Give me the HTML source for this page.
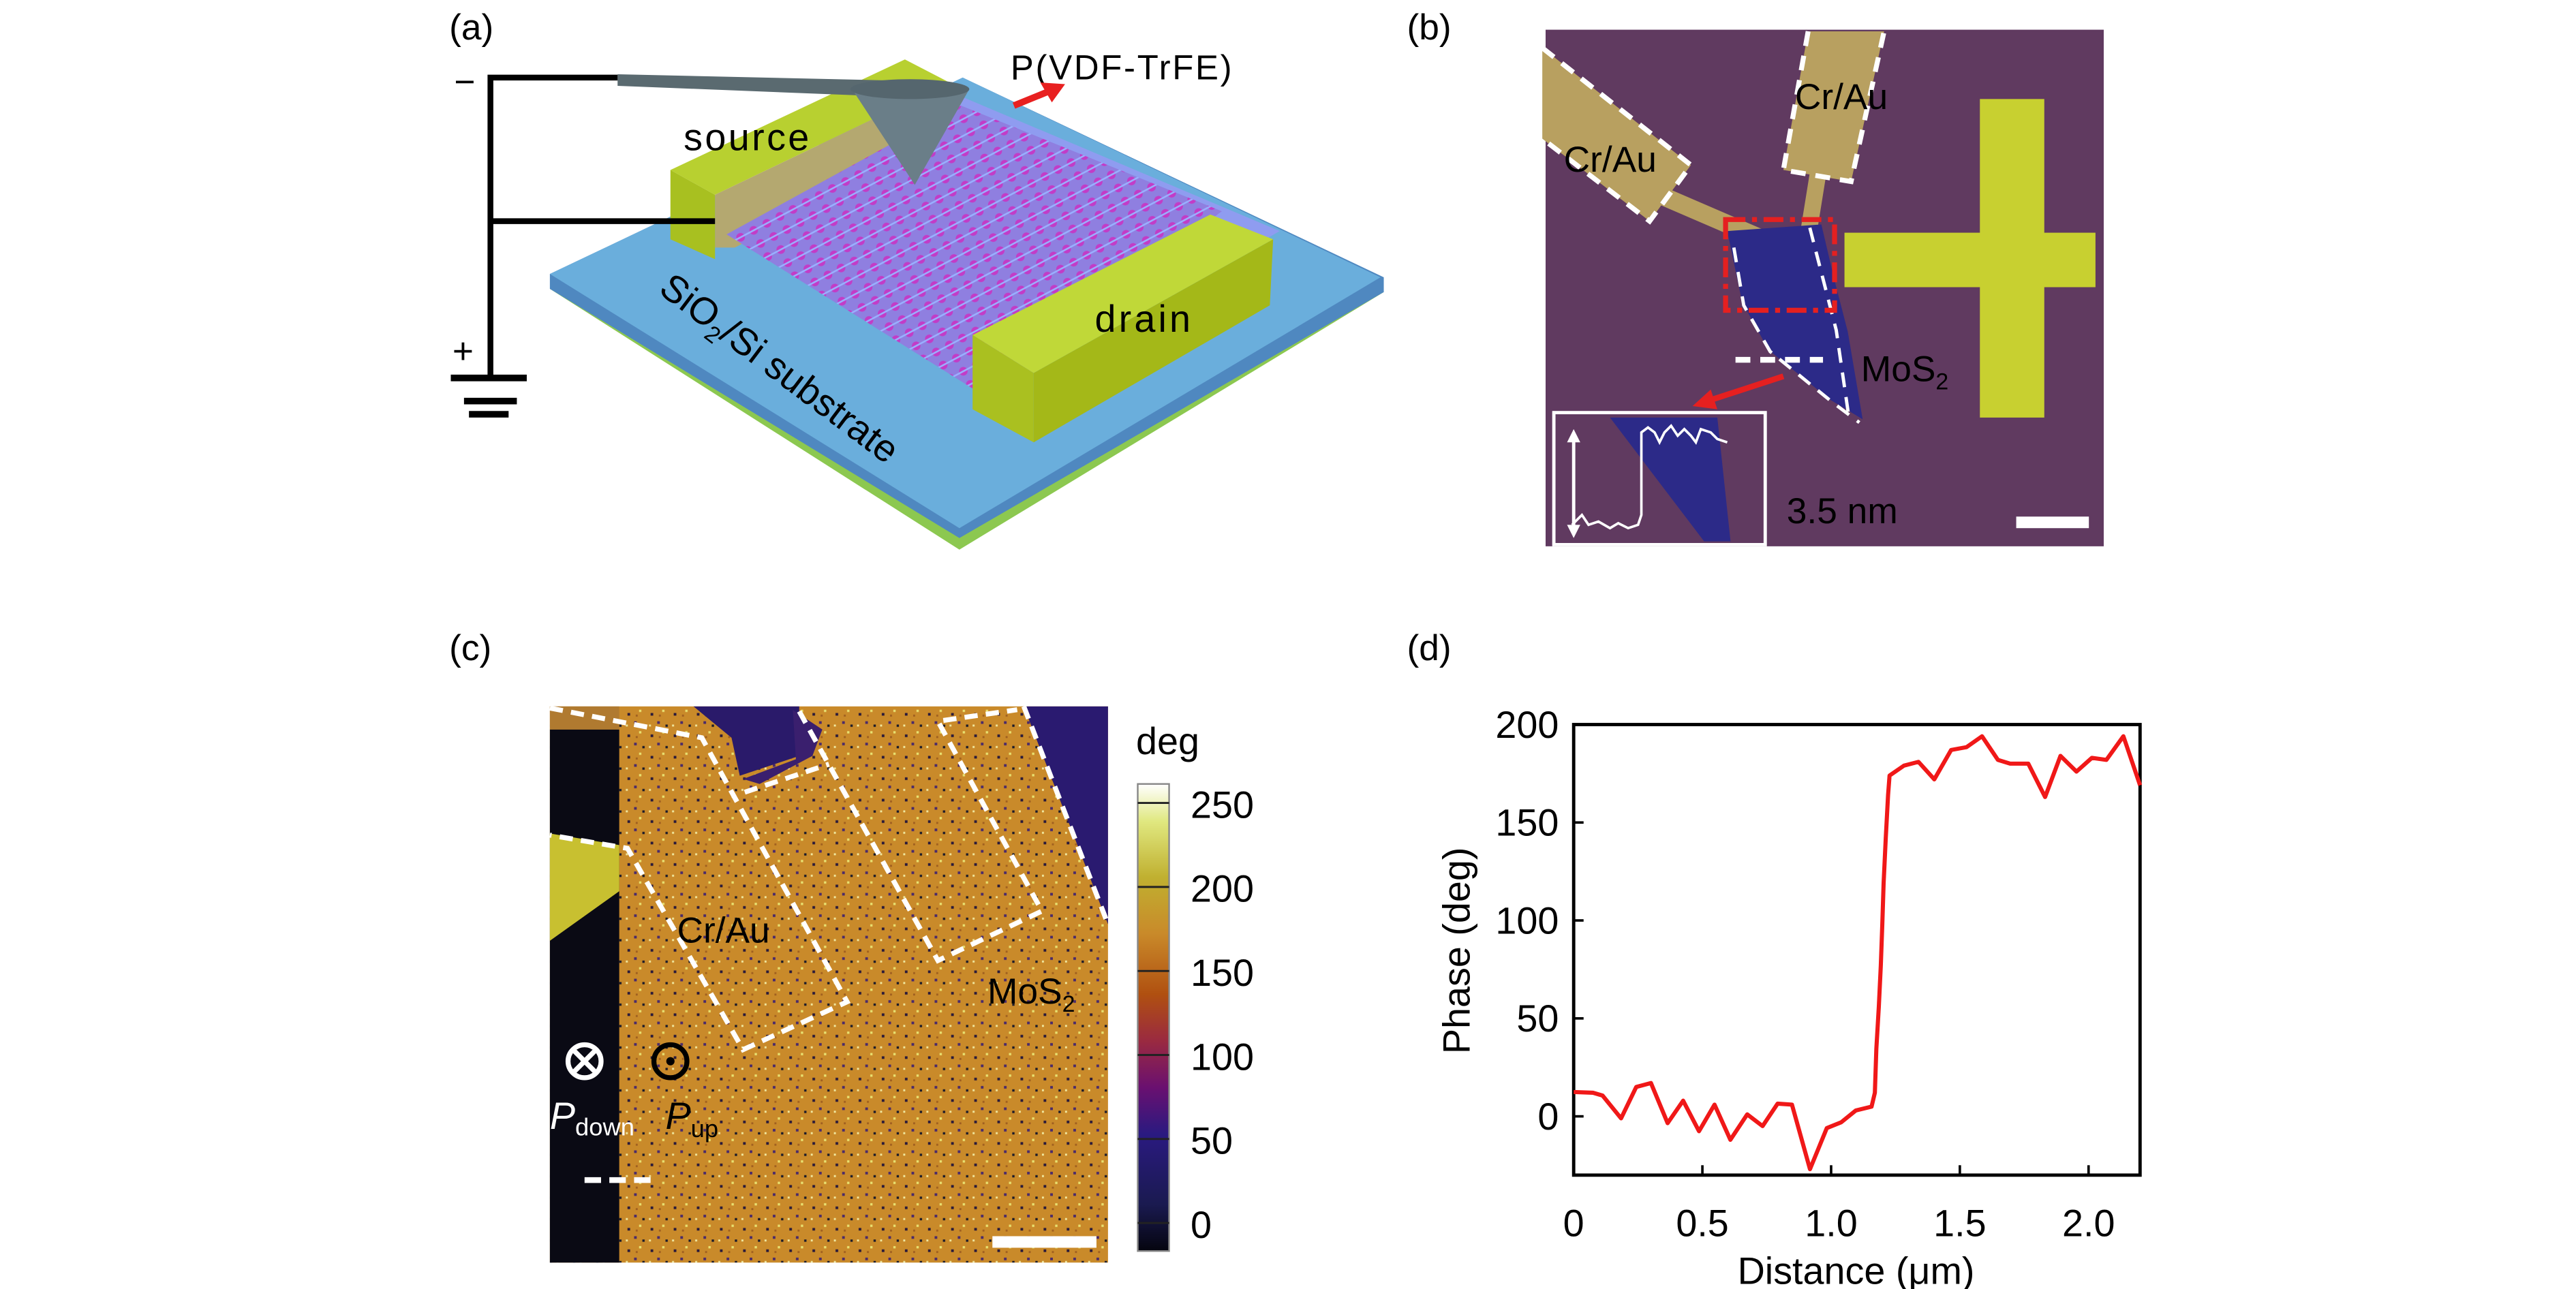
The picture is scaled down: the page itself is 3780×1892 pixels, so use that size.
<!DOCTYPE html>
<html><head><meta charset="utf-8"><style>
html,body{margin:0;padding:0;background:#fff}
svg{display:block}
text{font-family:"Liberation Sans",sans-serif}
</style></head><body>
<svg id="fig" width="3780" height="1892" viewBox="0 0 1560 781" preserveAspectRatio="none">
<defs>
<pattern id="dots" width="9" height="9" patternUnits="userSpaceOnUse" patternTransform="rotate(-28)">
<rect width="9" height="9" fill="#8f7fe0"/>
<circle cx="4.5" cy="4.5" r="2.6" fill="#c23cc7"/>
<line x1="0" y1="4.5" x2="9" y2="4.5" stroke="#9ab0ff" stroke-width="1"/>
</pattern>
<pattern id="speck" width="14" height="13" patternUnits="userSpaceOnUse">
<rect width="14" height="13" fill="#c98a2a"/>
<rect x="2" y="3" width="1.6" height="1.6" fill="#2a1a3a"/>
<rect x="9" y="1" width="1.4" height="1.4" fill="#e8e070"/>
<rect x="6" y="8" width="1.6" height="1.6" fill="#4a2a6a"/>
<rect x="11" y="10" width="1.4" height="1.4" fill="#1a1a2a"/>
<rect x="1" y="10" width="1.2" height="1.2" fill="#f0e8a0"/>
<rect x="7" y="4" width="1.2" height="1.2" fill="#a06020"/>
</pattern>
<linearGradient id="cbar" x1="0" y1="1" x2="0" y2="0">
<stop offset="0" stop-color="#05050f"/>
<stop offset="0.1" stop-color="#1a1a50"/>
<stop offset="0.25" stop-color="#2a1a80"/>
<stop offset="0.35" stop-color="#6a1070"/>
<stop offset="0.45" stop-color="#9a2a40"/>
<stop offset="0.55" stop-color="#b05010"/>
<stop offset="0.68" stop-color="#c98a2a"/>
<stop offset="0.8" stop-color="#c0b030"/>
<stop offset="0.92" stop-color="#e0e880"/>
<stop offset="1" stop-color="#ffffff"/>
</linearGradient>
</defs>

<!-- Panel a -->
<g>
<text x="272" y="24" font-size="22">(a)</text>
<polygon points="333,175 583,56 838,177 581,333" fill="#8cc850"/>
<polygon points="333,166 583,47 838,168 838,177 581,326 333,175" fill="#4f88c0"/>
<polygon points="333,166 583,47 836,168 581,320" fill="#6aaedc"/>
<polygon points="548,44 775,140 626,226 440,135" fill="#8f9cf0"/>
<polygon points="406,103 548,36 575,50 433,118" fill="#b8d030"/>
<polygon points="433,118 575,50 580,80 445,150 433,150" fill="#b4a870"/>
<polygon points="406,103 433,118 433,157 406,145" fill="#a8c020"/>
<polygon points="440,142 582,64 740,128 590,236" fill="url(#dots)"/>
<polygon points="589,203 733,130 771,145 626,226" fill="#c0d838"/>
<polygon points="589,203 626,226 626,268 589,248" fill="#aac020"/>
<polygon points="626,226 771,145 769,185 626,268" fill="#a4b818"/>
<polygon points="374,45 551,49 551,59 374,52" fill="#5a6a70"/>
<polygon points="516,54 587,54 554,112" fill="#6a7e88"/>
<ellipse cx="551" cy="54" rx="36" ry="6" fill="#55666e"/>
<polyline points="374,47 297,47 297,228" fill="none" stroke="#000" stroke-width="3.5"/>
<line x1="297" y1="134" x2="433" y2="134" stroke="#000" stroke-width="3.5"/>
<line x1="273" y1="229" x2="319" y2="229" stroke="#000" stroke-width="4"/>
<line x1="281" y1="243" x2="313" y2="243" stroke="#000" stroke-width="4"/>
<line x1="284" y1="251" x2="308" y2="251" stroke="#000" stroke-width="4"/>
<text x="275" y="57" font-size="22">−</text>
<text x="274" y="220" font-size="22">+</text>
<text x="414" y="91" font-size="23" textLength="76">source</text>
<text x="663" y="201" font-size="23" textLength="58">drain</text>
<text x="612" y="48" font-size="21" textLength="134">P(VDF-TrFE)</text>
<line x1="614" y1="64" x2="636" y2="55" stroke="#e82020" stroke-width="4"/>
<polygon points="645,51 630,50 637,62" fill="#e82020"/>
<text transform="translate(398,177) rotate(37)" font-size="23">SiO<tspan font-size="14" dy="5">2</tspan><tspan dy="-5">/Si substrate</tspan></text>
</g>

<!-- Panel b -->
<g>
<text x="852" y="24" font-size="22">(b)</text>
<rect x="936" y="18" width="338" height="313" fill="#603a60"/>
<polygon points="934,29 1024,100 999,134 934,84" fill="#b8a060"/>
<polyline points="1005,118 1063,143 1070,166" fill="none" stroke="#b8a060" stroke-width="11"/>
<polygon points="1095,19 1141,19 1121,110 1080,103" fill="#b8a060"/>
<polyline points="1101,105 1092,161" fill="none" stroke="#b8a060" stroke-width="10"/>
<polygon points="1046,140 1103,136 1111,170 1119,201 1128,254 1108,242 1071,212 1055,183" fill="#2c2a88"/>
<rect x="1199" y="60" width="39" height="193" fill="#c8d030"/>
<rect x="1117" y="141" width="152" height="33" fill="#c8d030"/>
<g fill="none" stroke="#fff" stroke-width="3" stroke-dasharray="9,6">
<polyline points="934,29 1024,100 999,134 934,84"/>
<polyline points="1095,19 1080,103 1121,110 1141,19"/>
<polyline points="1050,150 1056,185 1072,213 1110,244 1126,256" stroke-width="2"/>
<polyline points="1096,138 1112,200 1120,255" stroke-width="2"/>
<line x1="1051" y1="218" x2="1104" y2="218" stroke-width="3.5"/>
</g>
<rect x="1045" y="133" width="66" height="55" fill="none" stroke="#e52020" stroke-width="3" stroke-dasharray="12,4,3,4"/>
<line x1="1080" y1="228" x2="1034" y2="243" stroke="#e52020" stroke-width="3.5"/>
<polygon points="1025,246 1036,236 1040,248" fill="#e52020"/>
<rect x="941" y="250" width="128" height="80" fill="#603a60" stroke="#fff" stroke-width="2"/>
<polygon points="975,253 1040,253 1048,328 1032,328" fill="#2c2a88"/>
<polyline points="952,318 958,312 962,318 968,316 975,320 980,317 986,320 992,318 994,312 994,262 998,259 1002,262 1005,268 1008,262 1012,258 1016,264 1020,260 1024,264 1027,268 1030,260 1036,262 1040,266 1046,268" fill="none" stroke="#fff" stroke-width="1.5"/>
<line x1="953" y1="264" x2="953" y2="322" stroke="#fff" stroke-width="2"/>
<polygon points="953,260 949,268 957,268" fill="#fff"/>
<polygon points="953,326 949,318 957,318" fill="#fff"/>
<rect x="1221" y="313" width="44" height="7" fill="#fff"/>
<text x="947" y="104" font-size="22">Cr/Au</text>
<text x="1087" y="66" font-size="22">Cr/Au</text>
<text x="1127" y="231" font-size="22">MoS<tspan font-size="14" dy="5">2</tspan></text>
<text x="1082" y="317" font-size="22">3.5 nm</text>
</g>

<!-- Panel c -->
<g>
<text x="272" y="400" font-size="22">(c)</text>
<rect x="333" y="428" width="338" height="337" fill="url(#speck)"/>
<rect x="333" y="442" width="42" height="323" fill="#0a0a14"/>
<polygon points="333,428 375,428 375,442 333,442" fill="#b07a30"/>
<polygon points="420,428 484,428 484,458 448,470 443,447" fill="#2a1a6a"/>
<polygon points="480,428 482,460 450,472 460,475 492,458 498,442 480,430" fill="#3a1f6e"/>
<polygon points="620,428 671,428 671,560" fill="#2a1a70"/>
<polygon points="333,505 375,512 375,540 333,570" fill="#c8c030"/>
<g fill="none" stroke="#fff" stroke-width="3" stroke-dasharray="8,5">
<polyline points="333,429 425,447 513,607 450,636 380,514 333,506"/>
<polyline points="451,480 502,463"/>
<polyline points="484,431 568,582 631,552 568,437 616,430"/>
<polyline points="620,428 671,560"/>
<line x1="354" y1="715" x2="394" y2="715" stroke-dasharray="10,5" stroke-width="3.5"/>
</g>
<rect x="601" y="749" width="63" height="7" fill="#fff"/>
<text x="410" y="571" font-size="22">Cr/Au</text>
<text x="598" y="608" font-size="22">MoS<tspan font-size="14" dy="5">2</tspan></text>
<g>
<circle cx="354" cy="643" r="10" fill="none" stroke="#fff" stroke-width="3"/>
<line x1="347" y1="636" x2="361" y2="650" stroke="#fff" stroke-width="3"/>
<line x1="361" y1="636" x2="347" y2="650" stroke="#fff" stroke-width="3"/>
</g>
<g>
<circle cx="406" cy="643" r="10" fill="none" stroke="#000" stroke-width="3"/>
<circle cx="406" cy="643" r="2.5" fill="#000"/>
</g>
<text x="333" y="684" font-size="23" font-style="italic" fill="#fff">P<tspan font-style="normal" font-size="15" dy="4">down</tspan></text>
<text x="403" y="684" font-size="23" font-style="italic" fill="#000">P<tspan font-style="normal" font-size="15" dy="5">up</tspan></text>
<rect x="689" y="475" width="19" height="283" fill="url(#cbar)" stroke="#888" stroke-width="1"/>
<text x="688" y="457" font-size="23">deg</text>
<g id="cbticks"></g>
</g>

<!-- Panel d -->
<g>
<text x="852" y="400" font-size="22">(d)</text>
<g id="chart"></g>
</g>
</svg>
<script>
const distance=[0,0.009,0.075,0.112,0.184,0.243,0.300,0.365,0.425,0.487,0.547,0.609,0.674,0.734,0.792,0.848,0.918,0.983,1.039,1.096,1.157,1.170,1.176,1.185,1.193,1.199,1.204,1.212,1.221,1.227,1.283,1.339,1.401,1.466,1.526,1.586,1.648,1.695,1.766,1.831,1.891,1.953,2.013,2.069,2.135,2.2];
const phase=[12.4,12.4,12,10.6,-1,15,17,-3.5,8,-7.6,6,-12,1,-5,6.5,6,-27,-6,-3,3,5,12,34.5,56,77,98,119,142,164,174,179,181,172,187,188.5,194,182,180,180,163,184,176,183,182,194,169];
const xTicks=[0,0.5,1.0,1.5,2.0];
const xTickLabels=["0","0.5","1.0","1.5","2.0"];
const yTicks=[0,50,100,150,200];
const yTickLabels=["0","50","100","150","200"];
const cbTicks=[0,50,100,150,200,250];

const NS="http://www.w3.org/2000/svg";
const L=953,R=1296,T=439,B=712;
const xMin=0,xMax=2.2,yMin=-30,yMax=200;
function sx(v){return L+(v-xMin)/(xMax-xMin)*(R-L);}
function sy(v){return B-(v-yMin)/(yMax-yMin)*(B-T);}
function mk(tag,attrs,parent){const e=document.createElementNS(NS,tag);for(const k in attrs)e.setAttribute(k,attrs[k]);parent.appendChild(e);return e;}
const g=document.getElementById('chart');
const frame=mk('rect',{x:L,y:T,width:R-L,height:B-T,fill:'none',stroke:'#000','stroke-width':2},g);


xTicks.forEach((v,i)=>{
  const t=mk('line',{x1:sx(v),x2:sx(v),y1:B,y2:B-6,stroke:'#000','stroke-width':1.5},g);
  
  
  const l=mk('text',{x:sx(v),y:749,'font-size':23,'text-anchor':'middle'},g);
  l.textContent=xTickLabels[i];
  
  
});
yTicks.forEach((v,i)=>{
  const t=mk('line',{x1:L,x2:L+6,y1:sy(v),y2:sy(v),stroke:'#000','stroke-width':1.5},g);
  
  
  const l=mk('text',{x:944,y:sy(v)+8,'font-size':23,'text-anchor':'end'},g);
  l.textContent=yTickLabels[i];
  
  
});
const xt=mk('text',{x:1124,y:778,'font-size':23,'text-anchor':'middle'},g);
xt.textContent='Distance (μm)';


const yt=mk('text',{transform:'translate(890,576) rotate(-90)','font-size':23,'text-anchor':'middle'},g);
yt.textContent='Phase (deg)';


const pts=distance.map((d,i)=>sx(d).toFixed(1)+','+sy(phase[i]).toFixed(1)).join(' ');
const line=mk('polyline',{points:pts,fill:'none',stroke:'#f01818','stroke-width':2.5,'stroke-linejoin':'round'},g);



const cb=document.getElementById('cbticks');
const cbT=486.5,cbB=741;
function cy(v){return cbB-(v/250)*(cbB-cbT);}
cbTicks.forEach(v=>{
  const t=mk('line',{x1:689,x2:708,y1:cy(v),y2:cy(v),stroke:'#222','stroke-width':1.2},cb);
  
  
  const l=mk('text',{x:721,y:cy(v)+9,'font-size':23},cb);
  l.textContent=String(v);
  
  
});
</script>
</body></html>
